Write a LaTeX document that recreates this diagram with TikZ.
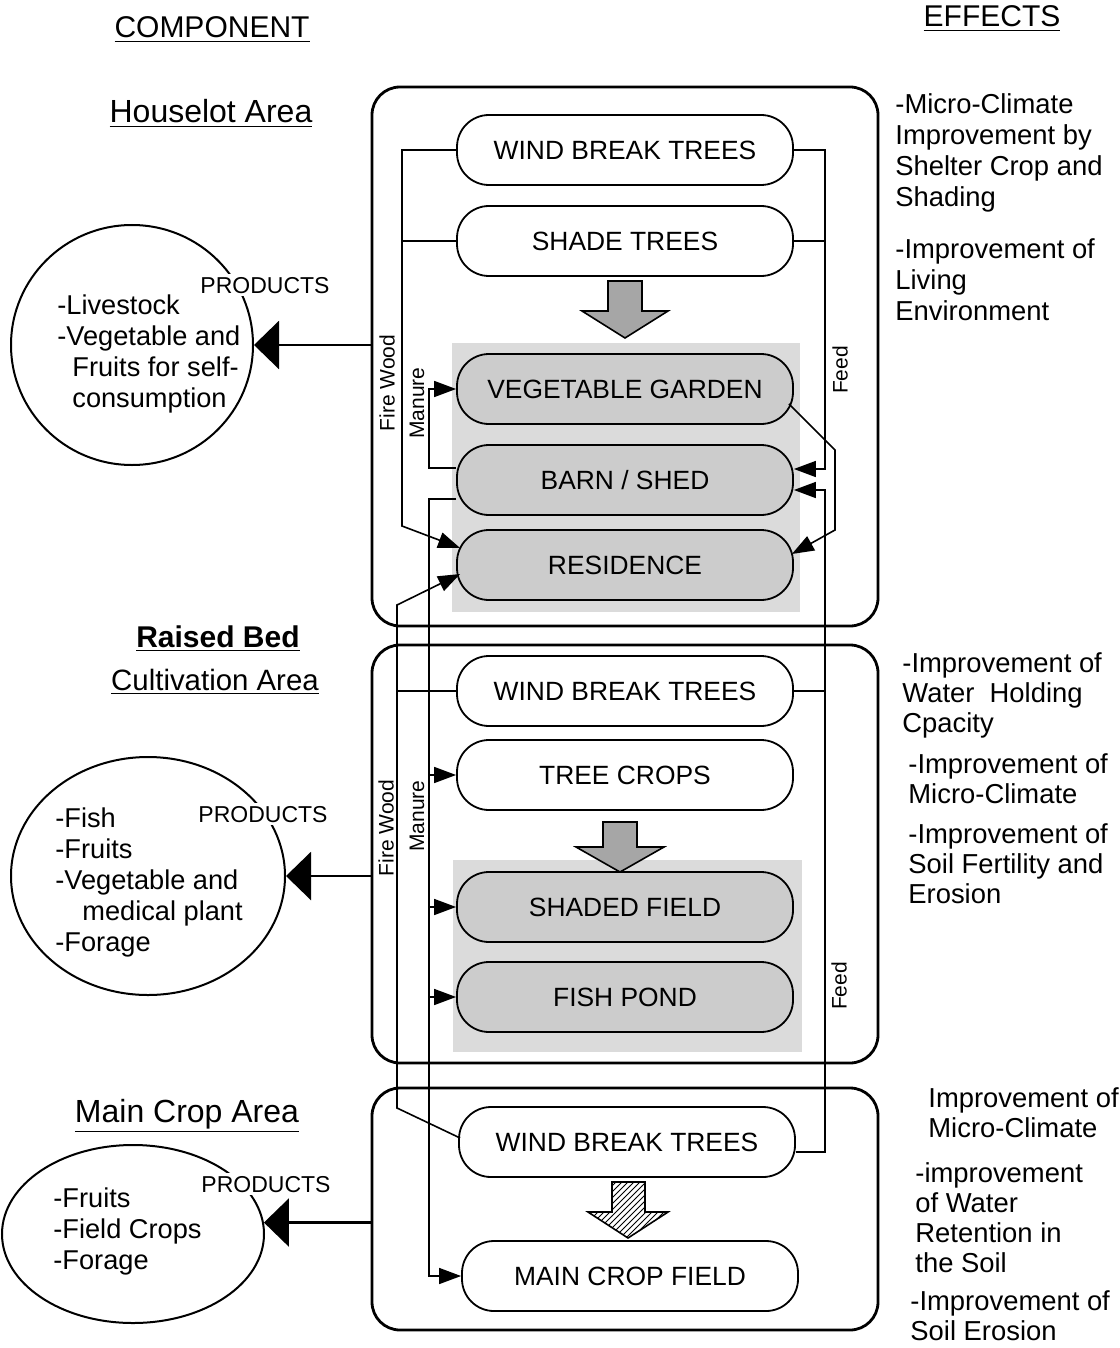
\documentclass[tikz,border=0pt]{standalone}
\usepackage{fontspec}
\setmainfont{Liberation Sans}
\usetikzlibrary{arrows.meta,calc,patterns,shapes.geometric}

\begin{document}
\begin{tikzpicture}[x=0.5pt,y=-0.5pt,
	compbox/.style={draw,line width=0.9pt,rounded corners=16pt,minimum width=168pt,minimum height=35pt,inner sep=0pt,font=\fontsize{13.2}{15}\selectfont},
	compgray/.style={compbox,fill=black!20},
	area/.style={draw,line width=1.4pt,rounded corners=14pt,minimum width=253pt,inner sep=0pt},
	conn/.style={line width=0.8pt},
	tipconn/.style={conn,-{Triangle[length=11pt,width=8pt]}},
	prod/.style={line width=1.2pt,-{Triangle[length=12.5pt,width=24pt]}},
	pool/.style={draw,line width=1pt,ellipse,inner sep=0pt},
	plist/.style={anchor=base west,align=left,inner sep=0pt,font=\fontsize{13.6}{15.4}\selectfont},
	effect/.style={anchor=base west,align=left,inner sep=0pt,font=\fontsize{13.7}{15}\selectfont},
	prodlabel/.style={anchor=base,fill=white,inner sep=1.5pt,font=\fontsize{11.5}{13}\selectfont},
	flowlabel/.style={rotate=90,inner sep=0pt,font=\fontsize{10.5}{12}\selectfont},
	areaname/.style={anchor=base,inner sep=0pt,font=\fontsize{16}{18}\selectfont},
	bigarrow/.style={draw,line width=0.8pt,fill=black!35}]
	\useasboundingbox (0,0) rectangle (1119,1348);
	% shaded parts
	\fill[black!14] (452,343) rectangle (800,612);
	\fill[black!14] (453,860) rectangle (802,1052);
	\node[area,minimum height=269.5pt] (houselot) at (625,356.5) {};
	\node[area,minimum height=209pt] (raised) at (625,854) {};
	\node[area,minimum height=121pt] (maincrop) at (625,1209) {};
	\node[compbox] (wb1) at (625,150) {WIND BREAK TREES};
	\node[compbox] (shade) at (625,241) {SHADE TREES};
	\node[compgray] (veg) at (625,389) {VEGETABLE GARDEN};
	\node[compgray] (barn) at (625,480) {BARN / SHED};
	\node[compgray] (res) at (625,565) {RESIDENCE};
	\node[compbox] (wb2) at (625,691) {WIND BREAK TREES};
	\node[compbox] (tree) at (625,775) {TREE CROPS};
	\node[compgray] (field) at (625,907) {SHADED FIELD};
	\node[compgray] (pond) at (625,997) {FISH POND};
	\node[compbox] (wb3) at (627,1142) {WIND BREAK TREES};
	\node[compbox] (crop) at (630,1276) {MAIN CROP FIELD};
	\draw[bigarrow] (608,281) -- (642,281) -- (642,311) -- (668,311) -- (625,338) -- (582,311) -- (608,311) -- cycle;
	\draw[bigarrow] (603,822) -- (637,822) -- (637,847) -- (664,847) -- (620,872) -- (576,847) -- (603,847) -- cycle;
	\draw[line width=0.8pt,pattern=north east lines] (612,1182) -- (645,1182) -- (645,1212) -- (668,1212) -- (628,1238) -- (588,1212) -- (612,1212) -- cycle;
	\coordinate (fw1) at (402,526);
	\coordinate (fw2a) at (397,1108);
	\coordinate (fw2b) at (397,605);
	\coordinate (man0) at (429,389);
	\coordinate (man) at (429,1276);
	\coordinate (fd1) at (825,469);
	\coordinate (fd2) at (825,490);
	\coordinate (kit1) at (835,450);
	\coordinate (kit2) at (835,530);
	% fire wood
	\draw[tipconn] (wb1.west) -| (fw1) -- ($(res.west)+(4,-17)$);
	\draw[conn] (shade.west) -- (shade.west -| fw1);
	\draw[tipconn] ($(wb3.west)+(2,-4)$) -- (fw2a) -- (fw2b) -- ($(res.west)+(4,9)$);
	\draw[conn] (wb2.west) -- (wb2.west -| fw2a);
	% manure
	\draw[tipconn] ($(barn.west)+(0,-12)$) -| (man0) -- (veg.west);
	\draw[tipconn] ($(barn.west)+(0,19)$) -| (man) -- (crop.west);
	\foreach \n in {tree,field,pond}
		\draw[tipconn] (\n.west -| man) -- (\n.west);
	% feed
	\draw[tipconn] (wb1.east) -| (fd1) -- (fd1 -| barn.east);
	\draw[conn] (shade.east) -- (shade.east -| fd1);
	\draw[tipconn] ($(wb3.east)+(0,10)$) -| (fd2) -- (fd2 -| barn.east);
	\draw[conn] (wb2.east) -- (wb2.east -| fd2);
	\draw[tipconn] ($(veg.east)+(-5,15)$) -- (kit1) -- (kit2) -- ($(res.east)+(-2,-11)$);
	\node[flowlabel] (fwl1) at (387,383) {Fire Wood};
	\node[flowlabel] (mal1) at (417,403) {Manure};
	\node[flowlabel] (fdl1) at (840,370) {Feed};
	\node[flowlabel] (fwl2) at (386,828) {Fire Wood};
	\node[flowlabel] (mal2) at (417,816) {Manure};
	\node[flowlabel] (fdl2) at (839,986) {Feed};
	% products
	\node[pool,minimum width=121pt,minimum height=120pt] (out1) at (132,345) {};
	\node[pool,minimum width=137pt,minimum height=119pt] (out2) at (148,876) {};
	\node[pool,minimum width=131pt,minimum height=89pt] (out3) at (133,1234) {};
	\draw[prod] (out1.east -| houselot.west) -- (out1.east);
	\draw[prod] (out2.east -| raised.west) -- (out2.east);
	\draw[prod] (out3.5 -| maincrop.west) -- (out3.5);
	\node[prodlabel] (p1) at (265,293) {PRODUCTS};
	\node[prodlabel] (p2) at (263,822) {PRODUCTS};
	\node[prodlabel] (p3) at (266,1192) {PRODUCTS};
	\node[plist] (l1) at (57,407) {-Livestock\\-Vegetable and\\\hspace*{7.5pt}Fruits for self-\\\hspace*{7.5pt}consumption};
	\node[plist] (l2) at (55,951) {-Fish\\-Fruits\\-Vegetable and\\\hspace*{13.5pt}medical plant\\-Forage};
	\node[plist] (l3) at (53,1269) {-Fruits\\-Field Crops\\-Forage};
	% titles
	\node[areaname,font=\fontsize{15}{18}\selectfont] (comp) at (212,38) {\underline{COMPONENT}};
	\node[areaname] (hl) at (211,123) {\underline{Houselot Area}};
	\node[areaname,font=\fontsize{15}{18}\bfseries] (rb) at (218,647) {\underline{Raised Bed}};
	\node[areaname,font=\fontsize{14.7}{18}\selectfont] (ca) at (215,690) {\underline{Cultivation Area}};
	\node[areaname] (mc) at (187,1122) {\underline{Main Crop Area}};
	\node[areaname,font=\fontsize{15}{18}\selectfont] (eff) at (992,27) {\underline{EFFECTS}};
	% effects
	\node[effect,font=\fontsize{13.7}{15.5}\selectfont] (e1) at (895,206) {-Micro-Climate\\Improvement by\\Shelter Crop and\\Shading};
	\node[effect,font=\fontsize{13.7}{15.5}\selectfont] (e2) at (895,320) {-Improvement of\\Living\\Environment};
	\node[effect] (e3) at (902,732) {-Improvement of\\Water\ \ Holding\\Cpacity};
	\node[effect] (e4) at (908,803) {-Improvement of\\Micro-Climate};
	\node[effect] (e5) at (908,903) {-Improvement of\\Soil Fertility and\\Erosion};
	\node[effect] (e6) at (928,1137) {Improvement of\\Micro-Climate};
	\node[effect] (e7) at (915,1272) {-improvement\\of Water\\Retention in\\the Soil};
	\node[effect] (e8) at (910,1340) {-Improvement of\\Soil Erosion};
\end{tikzpicture}
\end{document}
